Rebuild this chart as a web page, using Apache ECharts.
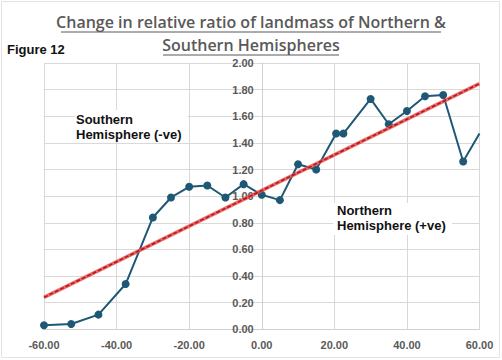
<!DOCTYPE html>
<html><head><meta charset="utf-8">
<script src="https://cdn.jsdelivr.net/npm/echarts@6/dist/echarts.min.js"></script>
<style>html,body{margin:0;padding:0;background:#fff}#c{width:502px;height:360px}</style>
</head><body><div id="c"></div>
<script>
// Data
const latitudes = [-60, -52.5, -45, -37.5, -30, -25, -20, -15, -10, -5, 0, 5, 10, 15, 20.5, 22.5, 30, 35, 40, 45, 50, 55.5, 60];
const ratios    = [0.03, 0.04, 0.11, 0.34, 0.84, 0.99, 1.07, 1.08, 0.99, 1.09, 1.01, 0.97, 1.24, 1.20, 1.47, 1.47, 1.73, 1.54, 1.64, 1.75, 1.76, 1.26, 1.47];
const trendX = [-60, 60];
const trendY = [0.24, 1.845];
const titleLines = ['Change in relative ratio of landmass of Northern &', 'Southern Hemispheres'];
const figureLabel = 'Figure 12';
const southLabel = ['Southern', 'Hemisphere (-ve)'];
const northLabel = ['Northern', 'Hemisphere (+ve)'];

const chart = echarts.init(document.getElementById('c'), null, {renderer: 'svg'});
const seriesData = latitudes.map((x, i) => i === latitudes.length - 1
  ? {value: [x, ratios[i]], symbol: 'none'} : [x, ratios[i]]);
const trendData = trendX.map((x, i) => [x, trendY[i]]);
const labelStyle = {color: '#595959', fontFamily: 'Liberation Sans', fontWeight: 'bold', fontSize: 11};
const annText = (x, y, t) => ({type: 'text', left: x, top: y, z: 11, style: {text: t, fill: '#111', font: 'bold 13px "Liberation Sans"'}});
const whiteBox = (x, y, w, h) => ({type: 'rect', z: 10, shape: {x: x, y: y, width: w, height: h}, style: {fill: '#fff'}});
const gridLeft = 44, gridRight = 22.5;
const plotW = 502 - gridLeft - gridRight;

chart.setOption({
  animation: false,
  grid: {left: gridLeft, right: gridRight, top: 63, bottom: 30.7},
  xAxis: {
    type: 'value', min: -60, max: 60, interval: 20,
    axisLine: {onZero: false, lineStyle: {color: '#d0d0d0'}}, axisTick: {show: false},
    splitLine: {show: true, showMinLine: true, showMaxLine: true, lineStyle: {color: '#d9d9d9'}},
    axisLabel: Object.assign({formatter: v => v.toFixed(2), margin: 10}, labelStyle)
  },
  yAxis: {
    type: 'value', min: 0, max: 2, interval: 0.2, offset: -plotW / 2,
    axisLine: {show: true, onZero: false, lineStyle: {color: '#d0d0d0'}}, axisTick: {show: false},
    splitLine: {lineStyle: {color: '#d9d9d9'}},
    axisLabel: Object.assign({formatter: v => v.toFixed(2), margin: 8}, labelStyle)
  },
  series: [
    {type: 'line', data: seriesData, symbol: 'circle', symbolSize: 8, z: 3,
     lineStyle: {color: '#1f5875', width: 2}, itemStyle: {color: '#1f5875'}},
    {type: 'line', data: trendData, symbol: 'none', z: 4,
     lineStyle: {color: '#e8504f', width: 3.5, opacity: 0.85}},
    {type: 'line', data: trendData, symbol: 'none', z: 5,
     lineStyle: {color: '#b3151a', width: 1.5, type: [4, 2]}}
  ],
  graphic: [
    {type: 'rect', shape: {x: 1.5, y: 1.5, width: 498, height: 356}, style: {fill: 'none', stroke: '#e3e3e3', lineWidth: 1}},
    {type: 'line', shape: {x1: gridLeft + 0.5, y1: 63, x2: gridLeft + 0.5, y2: 329.3}, style: {stroke: '#d9d9d9', lineWidth: 1}},
    {type: 'text', x: 251, y: 14, style: {text: titleLines[0], fill: '#595959', font: '600 16px "Open Sans"', textAlign: 'center'}},
    {type: 'text', x: 251, y: 37, style: {text: titleLines[1], fill: '#595959', font: '600 16px "Open Sans"', textAlign: 'center'}},
    {type: 'line', shape: {x1: 61, y1: 32, x2: 441, y2: 32}, style: {stroke: '#595959', lineWidth: 1}},
    {type: 'line', shape: {x1: 163, y1: 55, x2: 339, y2: 55}, style: {stroke: '#595959', lineWidth: 1}},
    {type: 'text', left: 7, top: 43, style: {text: figureLabel, fill: '#111', font: 'bold 13px "Liberation Sans"'}},
    whiteBox(75, 110, 113, 31), whiteBox(333, 203, 119, 32),
    annText(76, 113, southLabel[0]), annText(76, 128, southLabel[1]),
    annText(337, 204, northLabel[0]), annText(337, 219, northLabel[1])
  ]
});
</script></body></html>
